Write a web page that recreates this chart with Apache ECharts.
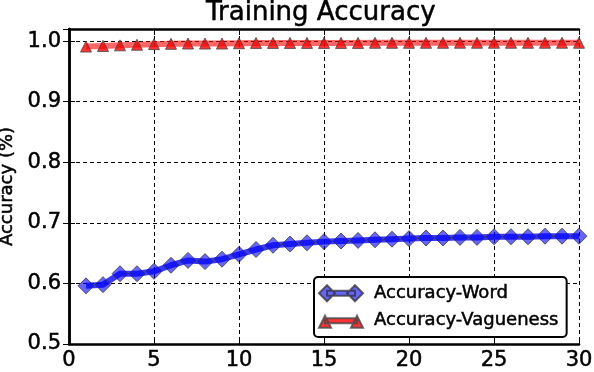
<!DOCTYPE html>
<html>
<head>
<meta charset="utf-8">
<script src="https://cdn.jsdelivr.net/npm/echarts@6/dist/echarts.min.js"></script>
<style>
  html, body { margin: 0; padding: 0; background: #fff; }
  #main { width: 594px; height: 372px; }
</style>
</head>
<body>
<div id="main"></div>
<script>
// epochs 1..30
const epochs = [1, 2, 3, 4, 5, 6, 7, 8, 9, 10, 11, 12, 13, 14, 15,
    16, 17, 18, 19, 20, 21, 22, 23, 24, 25, 26, 27, 28, 29, 30]

const wordAcc = [0.596, 0.598, 0.616, 0.616, 0.620, 0.630, 0.638, 0.636, 0.640, 0.648,
    0.656, 0.663, 0.665, 0.667, 0.669, 0.670, 0.671, 0.672, 0.673, 0.674,
    0.675, 0.675, 0.676, 0.676, 0.677, 0.677, 0.677, 0.678, 0.678, 0.678]

const vagueAcc = [0.991, 0.992, 0.993, 0.994, 0.995, 0.9955, 0.996, 0.996, 0.996, 0.9965,
    0.997, 0.997, 0.997, 0.997, 0.997, 0.997, 0.997, 0.9972, 0.9972, 0.9972,
    0.9972, 0.9972, 0.9973, 0.9973, 0.9973, 0.9973, 0.9973, 0.9973, 0.9973, 0.9973]

const seriesNames = ['Accuracy-Word', 'Accuracy-Vagueness']

const FONT = 'DejaVu Sans'
// the reference text looks a bit heavier than plain regular, thicken it slightly
const heavy = { textBorderColor: '#000', textBorderWidth: 0.5 }

// legend icons: marker - line - marker
const diamondIcon = 'path://M0,8L8,0L16,8L8,16ZM8,5.5L36,5.5L36,10.5L8,10.5ZM28,8L36,0L44,8L36,16Z'
const triangleIcon = 'path://M22,0L22,0M22,16L22,16M0,15L6,3L12,15ZM6,5.5L38,5.5L38,10.5L6,10.5ZM32,15L38,3L44,15Z'

const chart = echarts.init(document.getElementById('main'), null, { renderer: 'canvas' })

const hiddenAxisBits = {
    axisLabel: { show: false },
    splitLine: { show: false }
}

const option = {
    animation: false,
    backgroundColor: '#fff',
    title: {
        text: 'Training Accuracy',
        left: 206,
        top: 0,
        padding: 0,
        textStyle: { fontFamily: FONT, fontSize: 26, fontWeight: 'normal', color: '#000', ...heavy }
    },
    legend: {
        orient: 'vertical',
        left: 314,
        top: 277,
        padding: [7, 8, 7, 4],
        itemGap: 9,
        itemWidth: 44,
        itemHeight: 16,
        borderColor: '#000',
        borderWidth: 2,
        borderRadius: 4,
        backgroundColor: '#fff',
        textStyle: { fontFamily: FONT, fontSize: 18, color: '#000', padding: [0, 0, 0, 6], ...heavy },
        data: [
            { name: seriesNames[0], icon: diamondIcon },
            { name: seriesNames[1], icon: triangleIcon }
        ]
    },
    grid: { left: 69, right: 15, top: 29, bottom: 28, outerBoundsMode: 'none', containLabel: false },
    xAxis: [{
        type: 'value',
        min: 0,
        max: 30,
        interval: 5,
        axisLine: { lineStyle: { color: '#000', width: 2.5 } },
        axisTick: { inside: true, length: 6, lineStyle: { color: '#000', width: 1 } },
        axisLabel: { fontFamily: FONT, fontSize: 21, color: '#000', margin: 6, ...heavy },
        splitLine: { lineStyle: { color: '#000', width: 1, type: [4, 3] } }
    }, {
        type: 'value',
        position: 'top',
        min: 0,
        max: 30,
        interval: 5,
        axisLine: { lineStyle: { color: '#000', width: 2.5 } },
        axisTick: { inside: true, length: 6, lineStyle: { color: '#000', width: 1 } },
        ...hiddenAxisBits
    }],
    yAxis: [{
        type: 'value',
        min: 0.5,
        max: 1.02,
        interval: 0.1,
        name: 'Accuracy (%)',
        nameLocation: 'middle',
        nameGap: 52,
        nameTextStyle: { fontFamily: FONT, fontSize: 18, color: '#000', ...heavy },
        axisLine: { show: true, lineStyle: { color: '#000', width: 2.5 } },
        axisTick: { show: true, inside: true, length: 6, lineStyle: { color: '#000', width: 1 } },
        axisLabel: {
            fontFamily: FONT, fontSize: 21, color: '#000', margin: 8,
            showMaxLabel: false,
            formatter: v => v.toFixed(1),
            ...heavy
        },
        splitLine: { lineStyle: { color: '#000', width: 1, type: [4, 3] } }
    }, {
        type: 'value',
        position: 'right',
        min: 0.5,
        max: 1.02,
        interval: 0.1,
        axisLine: { show: true, lineStyle: { color: '#000', width: 2.5 } },
        axisTick: { show: true, inside: true, length: 6, lineStyle: { color: '#000', width: 1 } },
        ...hiddenAxisBits
    }],
    series: [{
        name: seriesNames[0],
        type: 'line',
        data: epochs.map((e, i) => [e, wordAcc[i]]),
        symbol: 'diamond',
        symbolSize: 16,
        showAllSymbol: true,
        lineStyle: { color: 'rgba(0,0,255,0.78)', width: 6 },
        itemStyle: { color: 'rgba(0,0,255,0.6)', borderColor: 'rgba(50,50,50,0.75)', borderWidth: 1 },
        emphasis: { disabled: true }
    }, {
        name: seriesNames[1],
        type: 'line',
        data: epochs.map((e, i) => [e, vagueAcc[i]]),
        symbol: 'triangle',
        symbolSize: 11,
        showAllSymbol: true,
        lineStyle: { color: 'rgba(255,0,0,0.6)', width: 6 },
        itemStyle: { color: 'rgba(255,0,0,0.8)', borderColor: 'rgba(70,70,70,0.8)', borderWidth: 1 },
        emphasis: { disabled: true }
    }]
}

chart.setOption(option)
</script>
</body>
</html>
